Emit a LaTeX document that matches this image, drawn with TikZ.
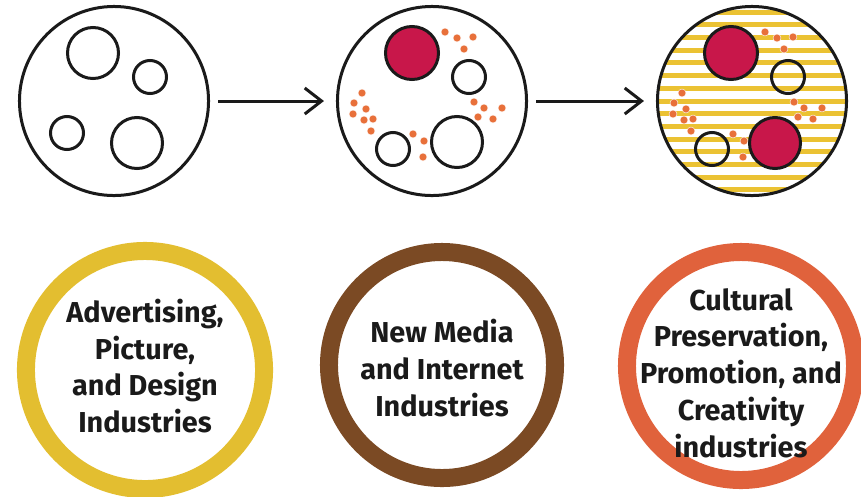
\documentclass[tikz,border=0pt]{standalone}
\usepackage{fontspec}
\setmainfont{Fira Sans}
\usepackage{tikz}
\usetikzlibrary{arrows.meta,calc}
\definecolor{inkblack}{HTML}{1A1A1A}
\definecolor{crimson}{HTML}{C8174A}
\definecolor{speckorange}{HTML}{E8703A}
\definecolor{stripeyellow}{HTML}{EBC233}
\definecolor{ringgold}{HTML}{E3BE30}
\definecolor{ringbrown}{HTML}{7B4A24}
\definecolor{ringorange}{HTML}{E0623C}
\tikzset{
  dish/.style={circle,draw=inkblack,line width=0.075cm,minimum size=4.725cm,inner sep=0pt},
  cellbig/.style={circle,draw=inkblack,line width=0.075cm,minimum size=1.275cm,inner sep=0pt},
  cellsmall/.style={circle,draw=inkblack,line width=0.075cm,minimum size=0.825cm,inner sep=0pt},
  cellfull/.style={cellbig,fill=crimson,minimum size=1.325cm},
  speck/.style={fill=speckorange,draw=white,line width=0.3pt},
  stripe/.style={draw=stripeyellow,line width=0.125cm},
  arrow/.style={-{Straight Barb[length=0.42cm,width=0.65cm]},line width=0.075cm,draw=inkblack,shorten <=0.2cm,shorten >=0.3cm},
  ring/.style={circle,line width=0.45cm,inner sep=0pt},
  ringtext/.style={align=center,font=\bfseries\fontsize{20.5}{26.2}\selectfont,text=inkblack}
}
\newcommand{\sprinkle}[1]{%
  \foreach \dx/\dy in {13/-69,25/-63,41/-64,32/-52,
                       -70/-8,-78/2,-66/8,-79/13,-68/19,-59/18,-61/30,
                       42/1,52/7,70/7,46/16,61/18,
                       -19/33,-8/40,-9/56}
    \fill[speck] ($(#1)+(\dx,\dy)$) circle[radius=0.1cm];}

\begin{document}
\begin{tikzpicture}[x=0.025cm,y=-0.025cm]
  \useasboundingbox (0,0) rectangle (861,496);

  % first dish
  \node[dish] (plain) at (114,101) {};
  \node[cellbig] (plaintop) at (93,53) {};
  \node[cellsmall] (plainsmall) at (150,77) {};
  \node[cellsmall] (plainleft) at (67,133) {};
  \node[cellbig] (plainright) at (137,143) {};

  % second dish
  \node[dish] (seeded) at (432,101) {};
  \node[cellfull] (seededred) at (412,53) {};
  \node[cellsmall] (seededsmall) at (469,77) {};
  \node[cellsmall] (seededleft) at (393,149) {};
  \node[cellbig] (seededright) at (457,142) {};
  \sprinkle{seeded}

  % third dish
  \begin{scope}
    \clip (752,101) circle[radius=2.36cm];
    \foreach \k in {-7,...,7}
      \draw[stripe] (650,{101+12.7*\k}) -- (855,{101+12.7*\k});
  \end{scope}
  \node[dish] (striped) at (752,101) {};
  \node[cellfull] (stripedred) at (731,53) {};
  \node[cellsmall] (stripedsmall) at (788,77) {};
  \node[cellsmall] (stripedleft) at (712,149) {};
  \node[cellfull,minimum size=1.275cm] (stripedredtwo) at (775,143) {};
  \sprinkle{striped}

  \draw[arrow] (plain) -- (seeded);
  \draw[arrow] (seeded) -- (striped);

  % rings
  \node[ring,draw=ringgold,minimum size=5.95cm] (advert) at (145,370) {};
  \node[ring,draw=ringbrown,minimum size=5.65cm] (newmedia) at (442,365) {};
  \node[ring,draw=ringorange,minimum size=5.7cm] (cultural) at (741,366) {};

  \node[ringtext] (adverttext) at (145,366) {Advertising,\\Picture,\\and Design\\Industries};
  \node[ringtext] (newmediatext) at (442,368) {New Media\\and Internet\\Industries};
  \node[ringtext] (culturaltext) at (741,373) {Cultural\\Preservation,\\Promotion, and\\Creativity\\industries};
\end{tikzpicture}
\end{document}
